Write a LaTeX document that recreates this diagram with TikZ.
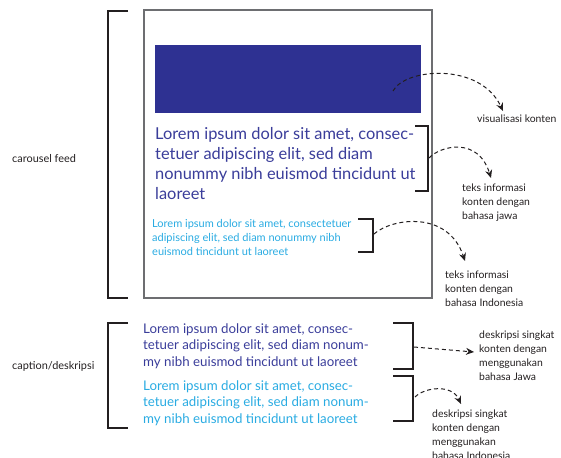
\documentclass[tikz,border=0pt]{standalone}
\usepackage{fontspec}
\setmainfont{Lato}
\usetikzlibrary{arrows.meta}
\definecolor{navy}{HTML}{2E3192}
\definecolor{navytext}{HTML}{3A3D9A}
\definecolor{skyblue}{HTML}{29ABE2}
\definecolor{framegray}{HTML}{6D6E71}
\definecolor{ink}{HTML}{231F20}
% multi-line nodes below are placed by the baseline of their last line
\tikzset{
  bracketline/.style={draw=ink, line width=1.2pt},
  framebox/.style={draw=framegray, line width=1.4pt},
  note/.style={anchor=base west, inner sep=0pt, align=left, text=ink,
    font=\fontsize{10.4}{14}\selectfont},
  pointer/.style={draw=ink, line width=1pt, dash pattern=on 4pt off 3pt,
    -{Stealth[length=8pt,width=7pt]}},
}
\begin{document}
\begin{tikzpicture}[x=1pt,y=-1pt]
\path[use as bounding box] (0,0) rectangle (561,457);

% carousel card frame and hero image
\draw[framebox] (144,10) rectangle (432,298);
\fill[navy] (155,45) rectangle (421,113);
\coordinate (img) at (393,91);

% outer brackets on the left
\draw[bracketline] (128,11) -- (108,11) -- (108,298) -- (128,298);
\draw[bracketline] (128,323) -- (108,323) -- (108,428) -- (128,428);
\node[note, font=\fontsize{10.9}{14}\selectfont] (carousel) at (12,162) {carousel feed};
\node[note, font=\fontsize{10.9}{14}\selectfont] (caption) at (12,369) {caption/deskripsi};

% text inside the card
\node[anchor=base west, inner sep=0pt, align=left, text=navytext,
  font=\fontsize{16.4}{20}\selectfont] (javatext) at (155,199)
  {Lorem ipsum dolor sit amet, consec-\\tetuer adipiscing elit, sed diam\\nonummy nibh euismod tincidunt ut\\laoreet};
\node[anchor=base west, inner sep=0pt, align=left, text=skyblue,
  font=\fontsize{11}{14}\selectfont] (indotext) at (152,255)
  {Lorem ipsum dolor sit amet, consectetuer\\adipiscing elit, sed diam nonummy nibh\\euismod tincidunt ut laoreet};

% brackets around the card texts
\draw[bracketline] (415,126) -- (428,126) -- (428,191) -- (415,191);
\coordinate (bj) at (429,158);
\draw[bracketline] (358,219) -- (373,219) -- (373,252) -- (358,252);
\coordinate (bi) at (374,234);

% caption texts
\node[anchor=base west, inner sep=0pt, align=left, text=navytext,
  font=\fontsize{13.3}{16.5}\selectfont] (capjava) at (143,366)
  {Lorem ipsum dolor sit amet, consec-\\tetuer adipiscing elit, sed diam nonum-\\my nibh euismod tincidunt ut laoreet};
\node[anchor=base west, inner sep=0pt, align=left, text=skyblue,
  font=\fontsize{13.3}{16.5}\selectfont] (capindo) at (143,423)
  {Lorem ipsum dolor sit amet, consec-\\tetuer adipiscing elit, sed diam nonum-\\my nibh euismod tincidunt ut laoreet};
\draw[bracketline] (393,323) -- (413,323) -- (413,369) -- (393,369);
\coordinate (cj) at (414,347);
\draw[bracketline] (393,376) -- (413,376) -- (413,421) -- (393,421);
\coordinate (ci) at (415,397);

% annotation labels
\node[note] (lvis) at (477,123) {visualisasi konten};
\node[note] (ljava) at (462,219) {teks informasi\\konten dengan\\bahasa jawa};
\node[note] (lindo) at (445,306) {teks informasi\\konten dengan\\bahasa Indonesia};
\node[note] (lcapj) at (479,380) {deskripsi singkat\\konten dengan\\menggunakan\\bahasa Jawa};
\node[note] (lcapi) at (432,459) {deskripsi singkat\\konten dengan\\menggunakan\\bahasa Indonesia};

% arrow tips above each label
\coordinate (tvis) at (503,111);
\coordinate (tjava) at (491,178);
\coordinate (tindo) at (465,261);
\coordinate (tcapj) at (474,352);
\coordinate (tcapi) at (461,404);

% dashed pointers
\draw[pointer] (img) .. controls (405,68) and (480,62) .. (tvis);
\draw[pointer] (bj) .. controls (440,146) and (478,136) .. (tjava);
\draw[pointer] (bi) .. controls (392,218) and (448,210) .. (tindo);
\draw[pointer] (cj) -- (tcapj);
\draw[pointer] (ci) .. controls (425,387) and (452,384) .. (tcapi);
\end{tikzpicture}
\end{document}
